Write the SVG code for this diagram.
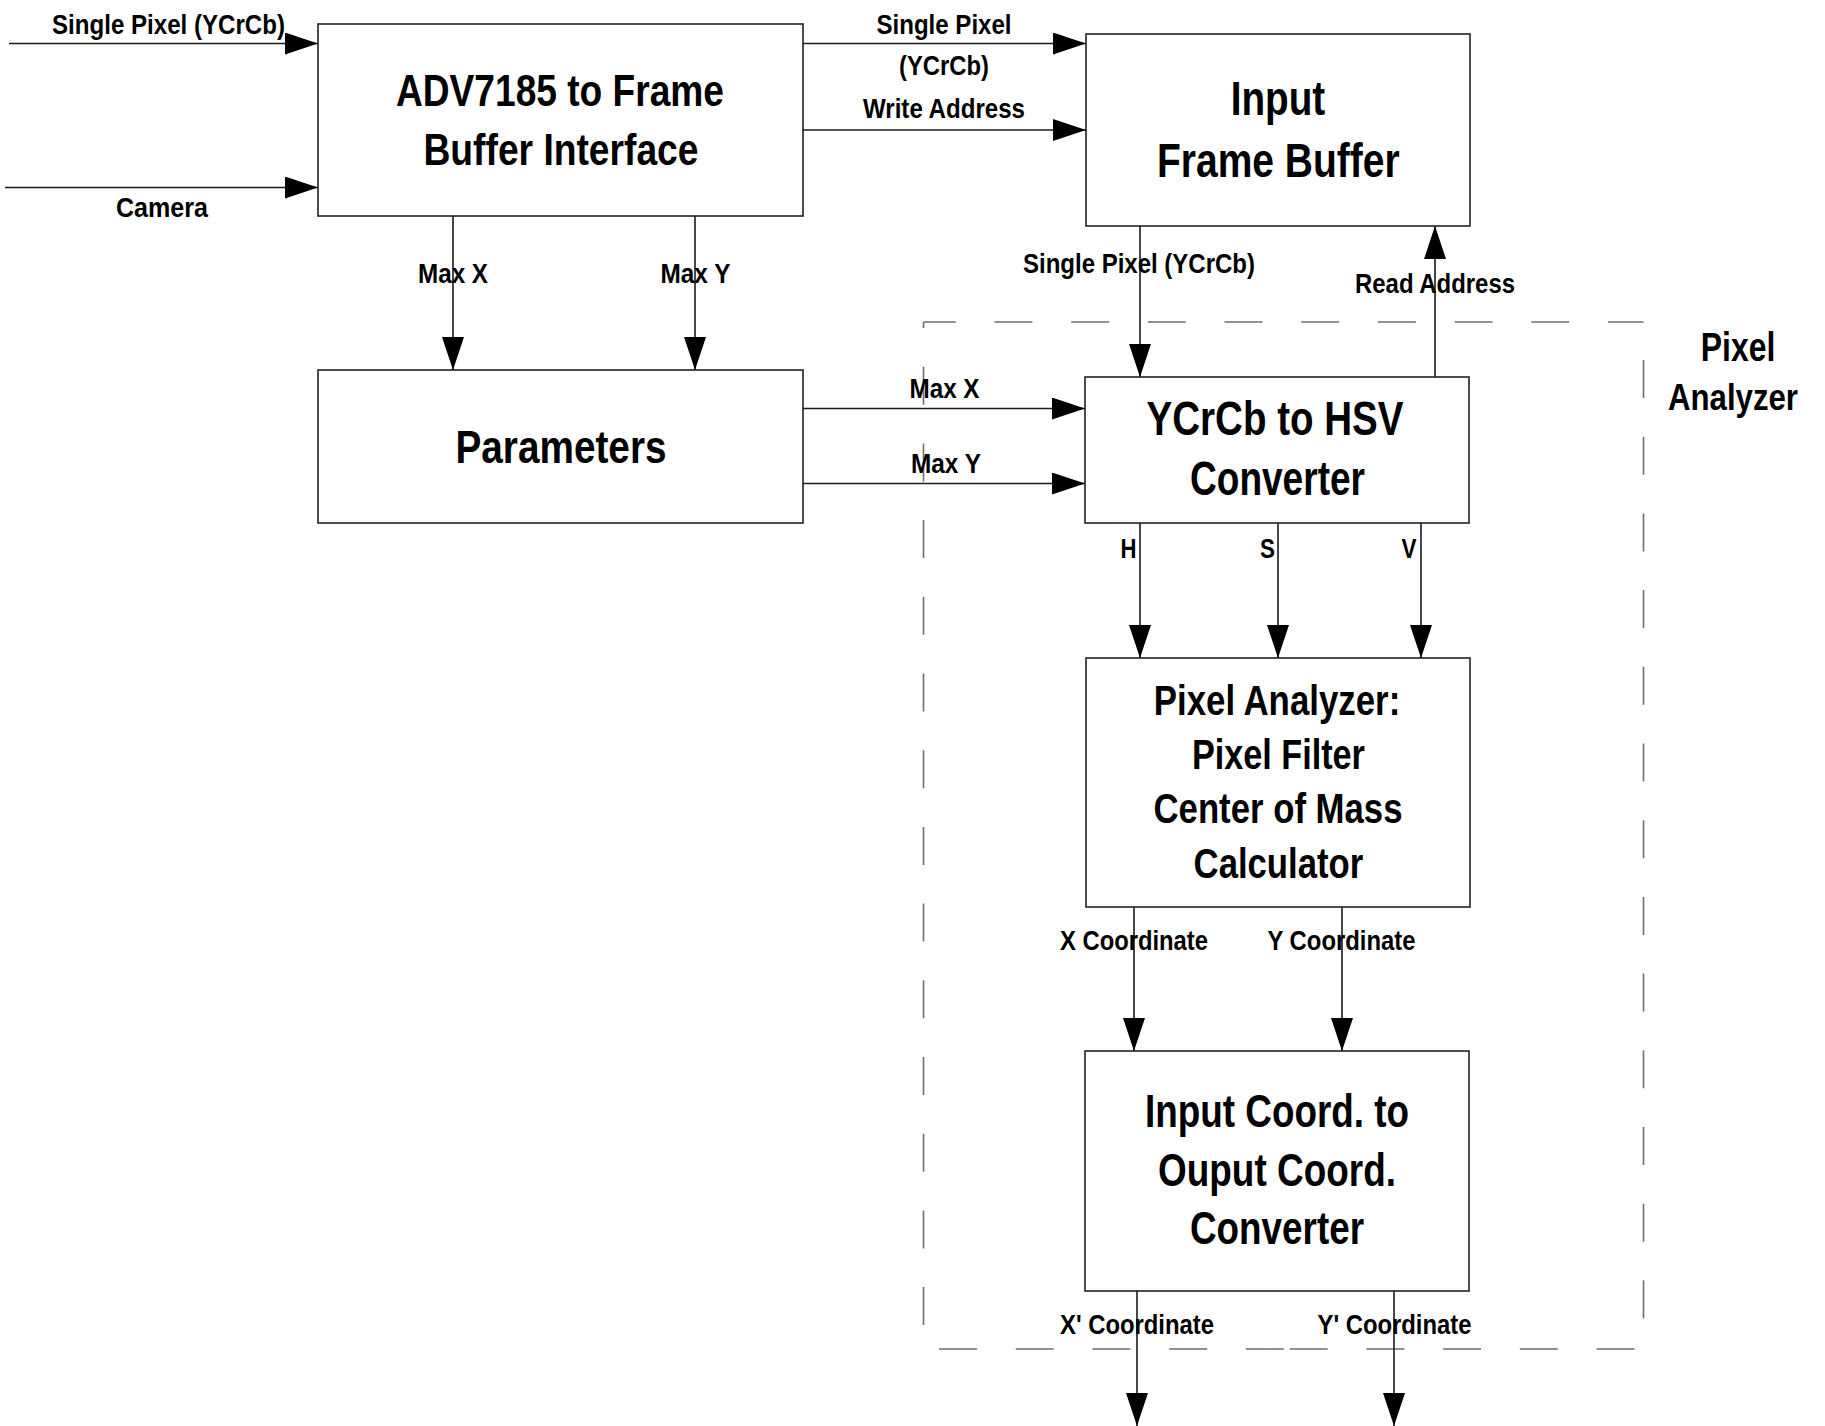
<svg xmlns="http://www.w3.org/2000/svg" width="1825" height="1426" viewBox="0 0 1825 1426">
  <style>
    .box { fill: #ffffff; stroke: #222222; stroke-width: 1.6; }
    .wire { fill: none; stroke: #1a1a1a; stroke-width: 1.6; }
    .dash { fill: none; stroke: #6e6e6e; stroke-width: 1.6; stroke-dasharray: 38 38.7; }
    text { font-family: "Liberation Sans", Arial, Helvetica, sans-serif; font-weight: bold; fill: #000000; text-anchor: middle; }
    .lbl { font-size: 28px; }
    .ttl { font-size: 46px; }
  </style>
  <defs>
    <marker id="head" markerUnits="userSpaceOnUse" markerWidth="34" markerHeight="24" refX="33" refY="11" orient="auto">
      <path d="M0,0 L33,11 L0,22 Z" fill="#000000"/>
    </marker>
  </defs>

  <rect width="1825" height="1426" fill="#ffffff"/>

  <!-- Pixel Analyzer boundary (dashed) -->
  <g id="pixel-analyzer-region">
    <line class="dash" x1="923.5" y1="322" x2="1643.5" y2="322" stroke-dashoffset="5.8"/>
    <line class="dash" x1="1643.5" y1="322" x2="1643.5" y2="1349" stroke-dashoffset="38.7"/>
    <line class="dash" x1="923.5" y1="322" x2="923.5" y2="1325" stroke-dashoffset="32"/>
    <line class="dash" x1="939" y1="1349" x2="1285" y2="1349"/>
    <line class="dash" x1="1289.7" y1="1349" x2="1635" y2="1349"/>
    <text class="ttl" style="font-size:40px" x="1738" y="361" textLength="74.5" lengthAdjust="spacingAndGlyphs">Pixel</text>
    <text class="ttl" style="font-size:36px" x="1733" y="410" textLength="130" lengthAdjust="spacingAndGlyphs">Analyzer</text>
  </g>

  <!-- Connectors -->
  <g id="connectors">
    <line class="wire" x1="9" y1="43.5" x2="318" y2="43.5" marker-end="url(#head)"/>
    <line class="wire" x1="5" y1="187.5" x2="318" y2="187.5" marker-end="url(#head)"/>
    <line class="wire" x1="803" y1="43.5" x2="1086" y2="43.5" marker-end="url(#head)"/>
    <line class="wire" x1="803" y1="130" x2="1086" y2="130" marker-end="url(#head)"/>
    <line class="wire" x1="453" y1="216" x2="453" y2="370" marker-end="url(#head)"/>
    <line class="wire" x1="695" y1="216" x2="695" y2="370" marker-end="url(#head)"/>
    <line class="wire" x1="803" y1="408.5" x2="1085" y2="408.5" marker-end="url(#head)"/>
    <line class="wire" x1="803" y1="483.5" x2="1085" y2="483.5" marker-end="url(#head)"/>
    <line class="wire" x1="1140" y1="226" x2="1140" y2="377" marker-end="url(#head)"/>
    <line class="wire" x1="1435" y1="377" x2="1435" y2="226" marker-end="url(#head)"/>
    <line class="wire" x1="1140" y1="514" x2="1140" y2="658" marker-end="url(#head)"/>
    <line class="wire" x1="1278" y1="514" x2="1278" y2="658" marker-end="url(#head)"/>
    <line class="wire" x1="1421" y1="514" x2="1421" y2="658" marker-end="url(#head)"/>
    <line class="wire" x1="1134" y1="907" x2="1134" y2="1051" marker-end="url(#head)"/>
    <line class="wire" x1="1342" y1="907" x2="1342" y2="1051" marker-end="url(#head)"/>
    <line class="wire" x1="1137" y1="1291" x2="1137" y2="1426" marker-end="url(#head)"/>
    <line class="wire" x1="1394" y1="1291" x2="1394" y2="1426" marker-end="url(#head)"/>

    <text class="lbl" x="168.5" y="33.5" textLength="233" lengthAdjust="spacingAndGlyphs">Single Pixel (YCrCb)</text>
    <text class="lbl" x="162" y="216.5" textLength="92" lengthAdjust="spacingAndGlyphs">Camera</text>
    <text class="lbl" x="944" y="33.5" textLength="135" lengthAdjust="spacingAndGlyphs">Single Pixel</text>
    <text class="lbl" x="944" y="75" textLength="90" lengthAdjust="spacingAndGlyphs">(YCrCb)</text>
    <text class="lbl" x="944" y="118" textLength="162" lengthAdjust="spacingAndGlyphs">Write Address</text>
    <text class="lbl" x="453" y="283" textLength="70" lengthAdjust="spacingAndGlyphs">Max X</text>
    <text class="lbl" x="695.5" y="283" textLength="70" lengthAdjust="spacingAndGlyphs">Max Y</text>
    <text class="lbl" x="944.5" y="398" textLength="70" lengthAdjust="spacingAndGlyphs">Max X</text>
    <text class="lbl" x="946" y="473" textLength="70" lengthAdjust="spacingAndGlyphs">Max Y</text>
    <text class="lbl" x="1139" y="273" textLength="232" lengthAdjust="spacingAndGlyphs">Single Pixel (YCrCb)</text>
    <text class="lbl" x="1435" y="293" textLength="160" lengthAdjust="spacingAndGlyphs">Read Address</text>
    <text class="lbl" x="1128.5" y="558" textLength="16" lengthAdjust="spacingAndGlyphs">H</text>
    <text class="lbl" x="1267.5" y="558" textLength="15" lengthAdjust="spacingAndGlyphs">S</text>
    <text class="lbl" x="1409" y="558" textLength="15" lengthAdjust="spacingAndGlyphs">V</text>
    <text class="lbl" x="1134" y="950" textLength="148" lengthAdjust="spacingAndGlyphs">X Coordinate</text>
    <text class="lbl" x="1341.5" y="950" textLength="148" lengthAdjust="spacingAndGlyphs">Y Coordinate</text>
    <text class="lbl" x="1137" y="1334" textLength="154" lengthAdjust="spacingAndGlyphs">X' Coordinate</text>
    <text class="lbl" x="1394.5" y="1334" textLength="154" lengthAdjust="spacingAndGlyphs">Y' Coordinate</text>
  </g>

  <!-- Blocks -->
  <g id="adv7185-interface">
    <rect class="box" x="318" y="24" width="485" height="192"/>
    <text class="ttl" style="font-size:45px" x="560" y="106" textLength="328" lengthAdjust="spacingAndGlyphs">ADV7185 to Frame</text>
    <text class="ttl" style="font-size:45px" x="561" y="165" textLength="275" lengthAdjust="spacingAndGlyphs">Buffer Interface</text>
  </g>

  <g id="input-frame-buffer">
    <rect class="box" x="1086" y="34" width="384" height="192"/>
    <text class="ttl" style="font-size:48px" x="1278" y="115" textLength="94.5" lengthAdjust="spacingAndGlyphs">Input</text>
    <text class="ttl" style="font-size:48px" x="1278.3" y="177" textLength="242.6" lengthAdjust="spacingAndGlyphs">Frame Buffer</text>
  </g>

  <g id="parameters">
    <rect class="box" x="318" y="370" width="485" height="153"/>
    <text class="ttl" x="561" y="463" textLength="211" lengthAdjust="spacingAndGlyphs">Parameters</text>
  </g>

  <g id="ycrcb-to-hsv">
    <rect class="box" x="1085" y="377" width="384" height="146"/>
    <text class="ttl" style="font-size:48px" x="1275" y="435" textLength="257" lengthAdjust="spacingAndGlyphs">YCrCb to HSV</text>
    <text class="ttl" style="font-size:48px" x="1277.5" y="495" textLength="175" lengthAdjust="spacingAndGlyphs">Converter</text>
  </g>

  <g id="pixel-analyzer">
    <rect class="box" x="1086" y="658" width="384" height="249"/>
    <text class="ttl" style="font-size:43px" x="1277" y="715" textLength="246.5" lengthAdjust="spacingAndGlyphs">Pixel Analyzer:</text>
    <text class="ttl" style="font-size:43px" x="1278.4" y="769" textLength="173" lengthAdjust="spacingAndGlyphs">Pixel Filter</text>
    <text class="ttl" style="font-size:43px" x="1278" y="823" textLength="249" lengthAdjust="spacingAndGlyphs">Center of Mass</text>
    <text class="ttl" style="font-size:43px" x="1278.4" y="878" textLength="169.6" lengthAdjust="spacingAndGlyphs">Calculator</text>
  </g>

  <g id="coordinate-converter">
    <rect class="box" x="1085" y="1051" width="384" height="240"/>
    <text class="ttl" x="1277" y="1127" textLength="264" lengthAdjust="spacingAndGlyphs">Input Coord. to</text>
    <text class="ttl" x="1277" y="1186" textLength="238" lengthAdjust="spacingAndGlyphs">Ouput Coord.</text>
    <text class="ttl" x="1277" y="1244" textLength="174" lengthAdjust="spacingAndGlyphs">Converter</text>
  </g>
</svg>
